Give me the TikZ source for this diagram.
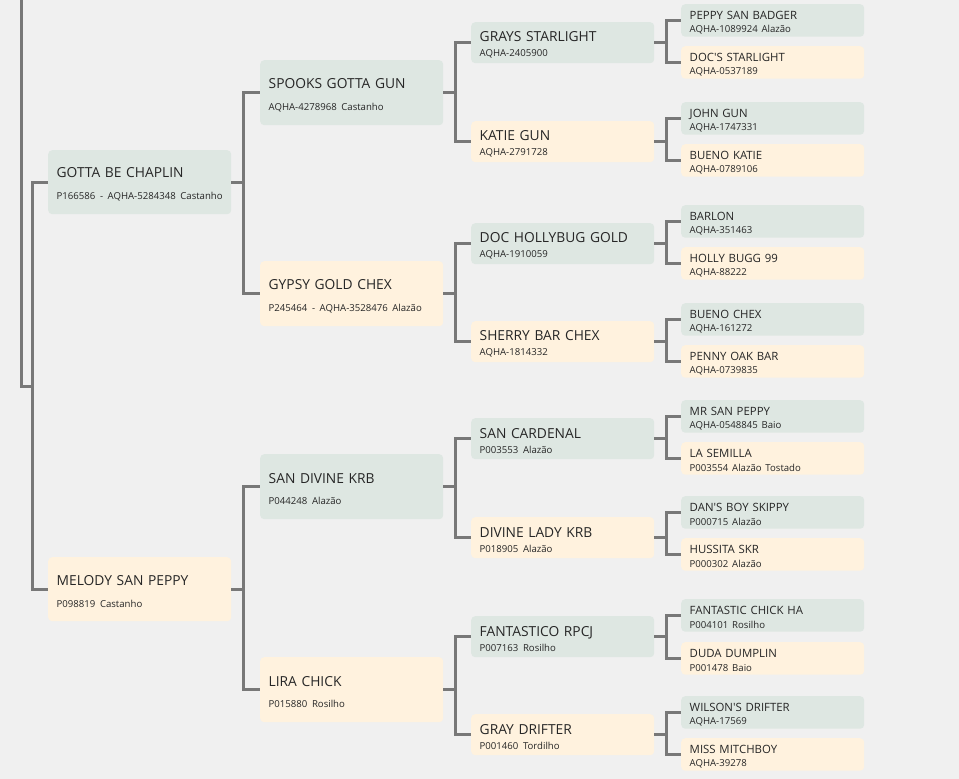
\documentclass[tikz,border=0pt]{standalone}
\usepackage{fontspec}
\setmainfont{Open Sans}
\usetikzlibrary{calc}

% registration line under a horse name
\newcommand{\reg}[1]{\\{\fontsize{9.6}{12}\selectfont\mbox{#1}}}

\begin{document}
\begin{tikzpicture}[x=1pt, y=-1pt,
	horse/.style={rectangle, rounded corners=4pt, anchor=north west,
		inner xsep=8.5pt, inner ysep=0pt, text width=166pt, minimum width=183pt,
		align=left, text=black!85, execute at begin node={\rule{0pt}{1.1em}}},
	sire/.style={horse, fill=sirefill},
	dam/.style={horse, fill=damfill},
	gen1/.style={minimum height=64pt, font=\fontsize{13.8}{22}\selectfont},
	gen2/.style={minimum height=65pt, font=\fontsize{13.8}{21.4}\selectfont},
	gen3/.style={minimum height=41pt, font=\fontsize{13.8}{15}\selectfont},
	gen4/.style={minimum height=32.5pt, font=\fontsize{11.4}{13.4}\selectfont},
	link/.style={draw=linegray, line width=3pt},
	]
	% Colors
	\definecolor{bgcolor}{HTML}{F0F0F0}
	\definecolor{sirefill}{HTML}{DEE7E2}
	\definecolor{damfill}{HTML}{FFF2DE}
	\definecolor{linegray}{HTML}{787878}
	
	% Page
	\fill[bgcolor] (0,0) rectangle (959,779);
	\useasboundingbox (0,0) rectangle (959,779);
	
	% First generation
	\node[sire, gen1] (gbc) at (48,150) {GOTTA BE CHAPLIN\reg{P166586 - AQHA-5284348 Castanho}};
	\node[dam,  gen1] (msp) at (48,557) {MELODY SAN PEPPY\reg{P098819 Castanho}};
	
	% Second generation
	\node[sire, gen2] (sgg) at (260,60)  {SPOOKS GOTTA GUN\reg{AQHA-4278968 Castanho}};
	\node[dam,  gen2] (ggc) at (260,261) {GYPSY GOLD CHEX\reg{P245464 - AQHA-3528476 Alazão}};
	\node[sire, gen2] (sdk) at (260,454) {SAN DIVINE KRB\reg{P044248 Alazão}};
	\node[dam,  gen2] (lch) at (260,657) {LIRA CHICK\reg{P015880 Rosilho}};
	
	% Third generation
	\node[sire, gen3] (gst) at (471,22)  {GRAYS STARLIGHT\reg{AQHA-2405900}};
	\node[dam,  gen3] (kgu) at (471,121) {KATIE GUN\reg{AQHA-2791728}};
	\node[sire, gen3] (dhg) at (471,223) {DOC HOLLYBUG GOLD\reg{AQHA-1910059}};
	\node[dam,  gen3] (sbc) at (471,321) {SHERRY BAR CHEX\reg{AQHA-1814332}};
	\node[sire, gen3] (sca) at (471,418) {SAN CARDENAL\reg{P003553 Alazão}};
	\node[dam,  gen3] (dlk) at (471,517) {DIVINE LADY KRB\reg{P018905 Alazão}};
	\node[sire, gen3] (fan) at (471,616) {FANTASTICO RPCJ\reg{P007163 Rosilho}};
	\node[dam,  gen3] (gdr) at (471,714) {GRAY DRIFTER\reg{P001460 Tordilho}};
	
	% Fourth generation
	\node[sire, gen4] (psb) at (681,4)   {PEPPY SAN BADGER\reg{AQHA-1089924 Alazão}};
	\node[dam,  gen4] (dst) at (681,46)  {DOC\textquotesingle S STARLIGHT\reg{AQHA-0537189}};
	\node[sire, gen4] (jgu) at (681,102) {JOHN GUN\reg{AQHA-1747331}};
	\node[dam,  gen4] (bka) at (681,144) {BUENO KATIE\reg{AQHA-0789106}};
	\node[sire, gen4] (bar) at (681,205) {BARLON\reg{AQHA-351463}};
	\node[dam,  gen4] (hbu) at (681,247) {HOLLY BUGG 99\reg{AQHA-88222}};
	\node[sire, gen4] (bch) at (681,303) {BUENO CHEX\reg{AQHA-161272}};
	\node[dam,  gen4] (pob) at (681,345) {PENNY OAK BAR\reg{AQHA-0739835}};
	\node[sire, gen4] (msa) at (681,400) {MR SAN PEPPY\reg{AQHA-0548845 Baio}};
	\node[dam,  gen4] (lse) at (681,442) {LA SEMILLA\reg{P003554 Alazão Tostado}};
	\node[sire, gen4] (dbs) at (681,496) {DAN\textquotesingle S BOY SKIPPY\reg{P000715 Alazão}};
	\node[dam,  gen4] (hsk) at (681,538) {HUSSITA SKR\reg{P000302 Alazão}};
	\node[sire, gen4] (fch) at (681,599) {FANTASTIC CHICK HA\reg{P004101 Rosilho}};
	\node[dam,  gen4] (ddu) at (681,642) {DUDA DUMPLIN\reg{P001478 Baio}};
	\node[sire, gen4] (wdr) at (681,696) {WILSON\textquotesingle S DRIFTER\reg{AQHA-17569}};
	\node[dam,  gen4] (mmi) at (681,738) {MISS MITCHBOY\reg{AQHA-39278}};
	
	% Line from the horse above the page
	\coordinate (top)  at (21,-5);
	\coordinate (root) at (32,386);
	\draw[link] (top) |- (root);
	\draw[link] (root) |- (gbc.west) (root) |- (msp.west);
	
	% Parents of every horse
	\foreach \p/\s/\d in {gbc/sgg/ggc, msp/sdk/lch,
		sgg/gst/kgu, ggc/dhg/sbc, sdk/sca/dlk, lch/fan/gdr,
		gst/psb/dst, kgu/jgu/bka, dhg/bar/hbu, sbc/bch/pob,
		sca/msa/lse, dlk/dbs/hsk, fan/fch/ddu, gdr/wdr/mmi}
	\draw[link] (\p.east) -- ++(12,0) coordinate (j) |- (\s.west) (j) |- (\d.west);
\end{tikzpicture}
\end{document}
